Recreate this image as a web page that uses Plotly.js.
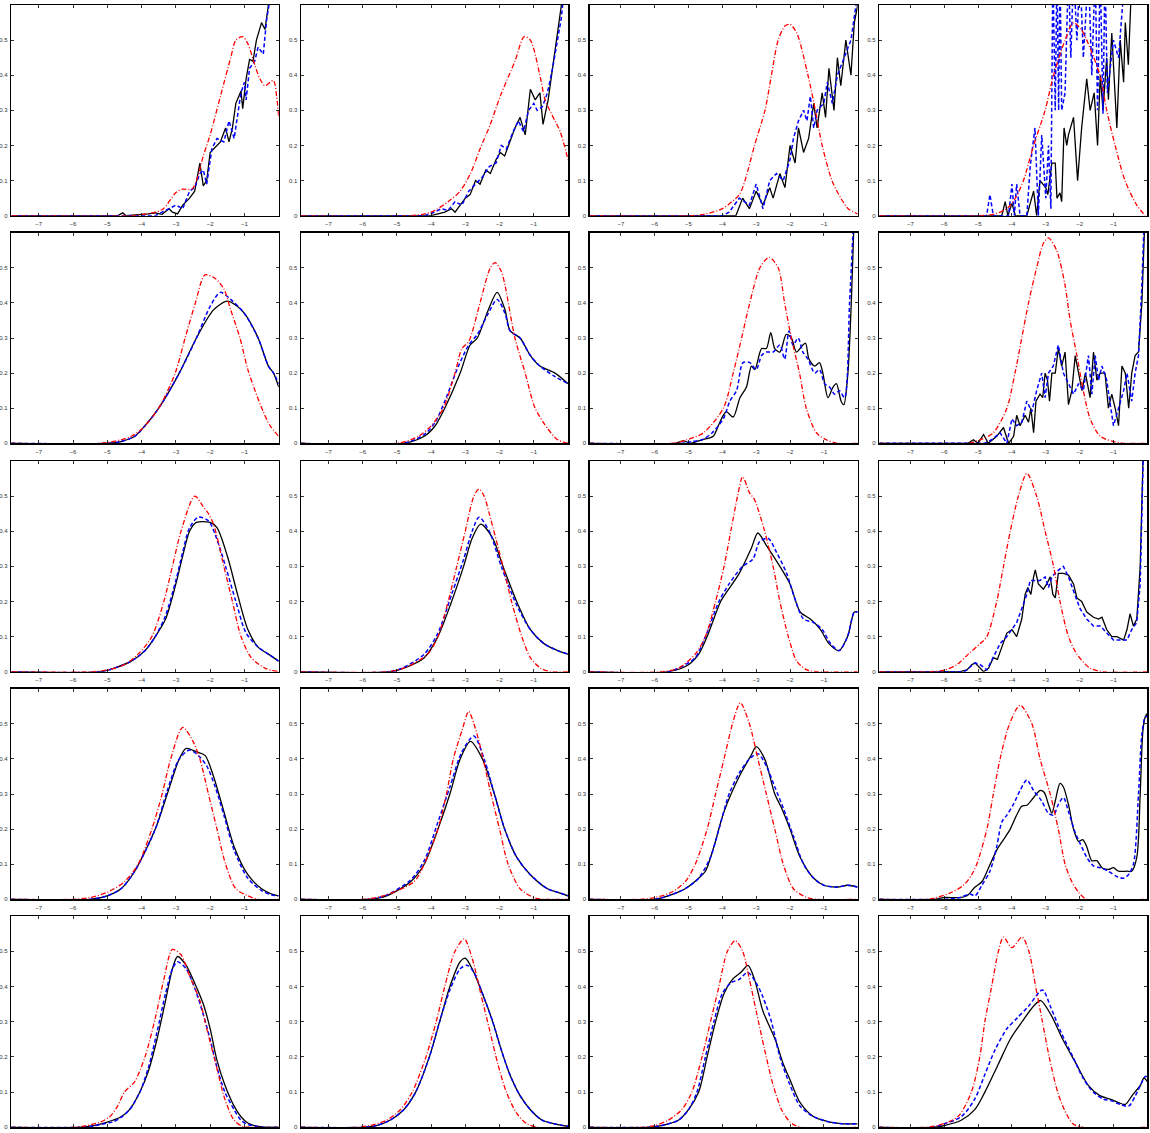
<!DOCTYPE html>
<html>
<head>
<meta charset="utf-8">
<script src="https://cdn.plot.ly/plotly-3.0.1.min.js"></script>
<style>html,body{margin:0;padding:0;background:#fff;}#chart{width:1150px;height:1133px;}</style>
</head>
<body>
<div id="chart"></div>
<script>
// ---------- DATA (x, density) pairs ----------
const xTickVals = [-7,-6,-5,-4,-3,-2,-1];
const xTickText = ['\u22127','\u22126','\u22125','\u22124','\u22123','\u22122','\u22121'];
const yTickVals = [0,0.1,0.2,0.3,0.4,0.5];
const yTickText = ['0','0.1','0.2','0.3','0.4','0.5'];
const colXMin = [-7.8,-7.8,-7.92,-7.92];

// Row 1
const r1c1_black = [[-7.8,0],[-4.7,0],[-4.55,0.008],[-4.45,0],[-3.8,0.005],[-3.6,0.008],[-3.4,0.004],[-3.2,0.02],[-3.1,0.01],[-2.95,0.005],[-2.8,0.03],[-2.6,0.05],[-2.45,0.07],[-2.3,0.15],[-2.2,0.085],[-2.1,0.1],[-2.0,0.18],[-1.9,0.19],[-1.7,0.21],[-1.55,0.25],[-1.45,0.21],[-1.35,0.25],[-1.25,0.32],[-1.1,0.355],[-1.05,0.305],[-0.95,0.39],[-0.85,0.445],[-0.75,0.44],[-0.65,0.5],[-0.5,0.55],[-0.4,0.53],[-0.3,0.6],[-0.2,0.7]];
const r1c1_blue = [[-7.8,0],[-3.6,0],[-3.4,0.01],[-3.0,0.03],[-2.8,0.02],[-2.6,0.07],[-2.45,0.08],[-2.3,0.12],[-2.2,0.13],[-2.1,0.09],[-1.95,0.19],[-1.8,0.22],[-1.6,0.21],[-1.45,0.27],[-1.3,0.22],[-1.2,0.29],[-1.1,0.35],[-1.0,0.38],[-0.95,0.33],[-0.85,0.42],[-0.7,0.44],[-0.6,0.48],[-0.45,0.46],[-0.35,0.56],[-0.25,0.62]];
const r1c1_red = [[-7.8,0],[-4.3,0],[-4.0,0.003],[-3.6,0.01],[-3.36,0.02],[-3.0,0.066],[-2.83,0.075],[-2.53,0.076],[-2.4,0.1],[-2.2,0.17],[-2.0,0.23],[-1.7,0.34],[-1.4,0.45],[-1.25,0.5],[-1.05,0.51],[-0.9,0.49],[-0.7,0.43],[-0.55,0.39],[-0.4,0.37],[-0.25,0.38],[-0.15,0.385],[-0.06,0.34],[0,0.28]];

const r1c2_black = [[-7.8,0],[-4.0,0],[-3.8,0.005],[-3.6,0.01],[-3.4,0.02],[-3.3,0.01],[-3.15,0.03],[-3.0,0.05],[-2.86,0.06],[-2.7,0.1],[-2.57,0.09],[-2.4,0.13],[-2.27,0.12],[-2.1,0.16],[-1.98,0.18],[-1.85,0.17],[-1.7,0.21],[-1.55,0.25],[-1.4,0.28],[-1.25,0.23],[-1.1,0.36],[-0.96,0.33],[-0.82,0.35],[-0.73,0.26],[-0.58,0.33],[-0.47,0.4],[-0.35,0.48],[-0.23,0.55],[-0.15,0.6],[-0.05,0.7]];
const r1c2_blue = [[-7.8,0],[-4.2,0],[-3.9,0.01],[-3.7,0.02],[-3.5,0.015],[-3.3,0.04],[-3.1,0.03],[-2.9,0.07],[-2.7,0.09],[-2.5,0.11],[-2.3,0.14],[-2.1,0.15],[-1.95,0.2],[-1.8,0.19],[-1.6,0.24],[-1.45,0.27],[-1.3,0.24],[-1.15,0.3],[-1.0,0.32],[-0.9,0.3],[-0.75,0.31],[-0.6,0.35],[-0.45,0.42],[-0.3,0.5],[-0.2,0.56],[-0.1,0.65]];
const r1c2_red = [[-7.8,0],[-4.6,0],[-4.0,0.01],[-3.5,0.04],[-3.15,0.07],[-2.85,0.12],[-2.57,0.19],[-2.27,0.26],[-1.98,0.34],[-1.55,0.44],[-1.28,0.51],[-1.1,0.5],[-0.8,0.39],[-0.67,0.33],[-0.38,0.27],[-0.23,0.24],[0,0.16]];

const r1c3_black = [[-7.92,0],[-3.6,0],[-3.4,0.05],[-3.2,0.02],[-3.0,0.07],[-2.8,0.03],[-2.6,0.08],[-2.5,0.05],[-2.3,0.12],[-2.15,0.08],[-2.0,0.2],[-1.85,0.15],[-1.75,0.25],[-1.6,0.18],[-1.45,0.22],[-1.3,0.32],[-1.2,0.25],[-1.05,0.35],[-0.95,0.28],[-0.85,0.42],[-0.7,0.3],[-0.6,0.45],[-0.5,0.37],[-0.35,0.5],[-0.2,0.4],[-0.1,0.55],[0,0.6]];
const r1c3_blue = [[-7.92,0],[-4.0,0],[-3.8,0.01],[-3.5,0.05],[-3.2,0.03],[-3.0,0.09],[-2.8,0.02],[-2.6,0.1],[-2.4,0.12],[-2.2,0.1],[-2.0,0.16],[-1.9,0.22],[-1.75,0.27],[-1.6,0.3],[-1.5,0.27],[-1.4,0.34],[-1.3,0.25],[-1.2,0.3],[-1.0,0.32],[-0.9,0.38],[-0.75,0.32],[-0.6,0.4],[-0.4,0.45],[-0.2,0.5],[-0.05,0.6]];
const r1c3_red = [[-7.92,0],[-5.0,0],[-4.5,0.005],[-4.0,0.02],[-3.5,0.06],[-3.33,0.1],[-3.05,0.2],[-2.74,0.3],[-2.55,0.4],[-2.35,0.5],[-2.15,0.54],[-2.0,0.545],[-1.8,0.52],[-1.47,0.4],[-1.25,0.3],[-1.05,0.2],[-0.76,0.1],[-0.5,0.05],[-0.28,0.02],[0,0.005]];

const r1c4_black = [[-7.92,0],[-4.3,0],[-4.2,0.04],[-4.12,0],[-4.0,0.035],[-3.9,0],[-3.56,0],[-3.36,0.07],[-3.27,0],[-3.17,0.1],[-3.0,0.08],[-2.94,0.06],[-2.82,0.15],[-2.72,0.15],[-2.67,0.05],[-2.58,0.065],[-2.53,0.04],[-2.46,0.25],[-2.38,0.2],[-2.33,0.23],[-2.18,0.28],[-2.06,0.1],[-1.94,0.25],[-1.79,0.39],[-1.69,0.3],[-1.57,0.35],[-1.47,0.2],[-1.39,0.4],[-1.31,0.3],[-1.2,0.45],[-1.15,0.33],[-1.05,0.52],[-0.9,0.25],[-0.8,0.5],[-0.7,0.38],[-0.65,0.55],[-0.56,0.43],[-0.5,0.6],[-0.45,0.7]];
const r1c4_blue = [[-7.92,0],[-4.75,0],[-4.65,0.06],[-4.55,0],[-4.1,0],[-4.0,0.09],[-3.93,0],[-3.86,0.09],[-3.76,0],[-3.56,0],[-3.46,0.14],[-3.32,0.25],[-3.22,0],[-3.12,0.23],[-3.0,0.05],[-2.92,0.2],[-2.85,0.02],[-2.79,0.7],[-2.72,0.3],[-2.67,0.7],[-2.62,0.3],[-2.58,0.7],[-2.53,0.3],[-2.43,0.35],[-2.33,0.7],[-2.26,0.45],[-2.18,0.7],[-2.08,0.5],[-1.99,0.7],[-1.89,0.45],[-1.74,0.7],[-1.64,0.4],[-1.54,0.7],[-1.47,0.3],[-1.39,0.7],[-1.31,0.29],[-1.25,0.7],[-1.18,0.35],[-1.0,0.5],[-0.85,0.45],[-0.65,0.7]];
const r1c4_red = [[-7.92,0],[-5.0,0],[-4.5,0.005],[-4.15,0.02],[-3.9,0.05],[-3.66,0.1],[-3.36,0.2],[-3.02,0.3],[-2.77,0.4],[-2.43,0.5],[-2.18,0.55],[-1.95,0.53],[-1.79,0.5],[-1.4,0.4],[-1.2,0.3],[-0.95,0.2],[-0.66,0.1],[-0.31,0.03],[-0.06,0]];

// Row 2
const r2c1_black = [[-7.8,0],[-5.0,0],[-4.6,0.005],[-4.2,0.02],[-3.9,0.05],[-3.5,0.1],[-2.9,0.2],[-2.4,0.3],[-1.9,0.38],[-1.5,0.405],[-1.2,0.39],[-1.0,0.37],[-0.6,0.3],[-0.3,0.22],[-0.15,0.2],[0,0.16]];
const r2c1_blue = [[-7.8,0],[-5.0,0],[-4.6,0.005],[-4.2,0.02],[-3.9,0.05],[-3.5,0.1],[-2.9,0.2],[-2.4,0.3],[-2.0,0.39],[-1.7,0.43],[-1.4,0.41],[-1.0,0.37],[-0.6,0.3],[-0.3,0.22],[-0.15,0.2],[0,0.17]];
const r2c1_red = [[-7.8,0],[-5.2,0],[-4.6,0.01],[-4.3,0.02],[-4.0,0.04],[-3.5,0.1],[-3.02,0.2],[-2.73,0.3],[-2.43,0.4],[-2.15,0.48],[-1.86,0.47],[-1.6,0.44],[-1.4,0.38],[-1.13,0.3],[-0.9,0.21],[-0.69,0.15],[-0.45,0.09],[-0.25,0.05],[0,0.02]];

const r2c2_black = [[-7.8,0],[-4.8,0],[-4.2,0.02],[-3.88,0.05],[-3.6,0.1],[-3.15,0.2],[-2.86,0.28],[-2.65,0.3],[-2.33,0.38],[-2.07,0.43],[-1.84,0.38],[-1.69,0.32],[-1.4,0.3],[-1.1,0.25],[-0.82,0.22],[-0.38,0.2],[0,0.17]];
const r2c2_blue = [[-7.8,0],[-4.8,0],[-4.2,0.025],[-3.88,0.06],[-3.6,0.12],[-3.2,0.22],[-2.9,0.28],[-2.65,0.31],[-2.33,0.37],[-2.07,0.41],[-1.84,0.37],[-1.69,0.32],[-1.4,0.3],[-1.1,0.25],[-0.82,0.22],[-0.38,0.19],[0,0.17]];
const r2c2_red = [[-7.8,0],[-5.0,0],[-4.37,0.02],[-4.0,0.05],[-3.64,0.1],[-3.3,0.2],[-3.1,0.27],[-2.9,0.29],[-2.57,0.4],[-2.27,0.5],[-2.13,0.515],[-1.95,0.49],[-1.84,0.45],[-1.55,0.3],[-1.25,0.2],[-0.96,0.1],[-0.58,0.04],[-0.3,0.01],[0,0]];

const r2c3_black = [[-7.92,0],[-5.4,0],[-5.15,0.007],[-4.95,0],[-4.6,0.01],[-4.27,0.02],[-4.12,0.05],[-3.97,0.08],[-3.88,0.09],[-3.68,0.075],[-3.48,0.13],[-3.29,0.16],[-3.14,0.22],[-3.04,0.21],[-2.84,0.27],[-2.7,0.27],[-2.57,0.315],[-2.45,0.27],[-2.3,0.26],[-2.11,0.31],[-1.96,0.3],[-1.81,0.26],[-1.62,0.28],[-1.54,0.285],[-1.44,0.24],[-1.27,0.22],[-1.13,0.23],[-1.03,0.2],[-0.88,0.13],[-0.73,0.16],[-0.63,0.17],[-0.49,0.12],[-0.41,0.11],[-0.29,0.2],[-0.19,0.4],[-0.12,0.6],[-0.08,0.7]];
const r2c3_blue = [[-7.92,0],[-5.2,0],[-4.9,0.005],[-4.6,0.01],[-4.3,0.03],[-3.97,0.07],[-3.78,0.12],[-3.58,0.15],[-3.39,0.23],[-3.19,0.23],[-3.0,0.21],[-2.84,0.25],[-2.7,0.26],[-2.5,0.26],[-2.3,0.28],[-2.16,0.24],[-2.03,0.32],[-1.91,0.28],[-1.76,0.3],[-1.62,0.26],[-1.47,0.24],[-1.27,0.2],[-1.13,0.21],[-0.98,0.17],[-0.83,0.16],[-0.68,0.14],[-0.54,0.15],[-0.39,0.13],[-0.24,0.4],[-0.14,0.6],[-0.1,0.7]];
const r2c3_red = [[-7.92,0],[-5.5,0],[-5.05,0.01],[-4.56,0.03],[-3.97,0.1],[-3.68,0.2],[-3.43,0.3],[-3.19,0.4],[-2.89,0.5],[-2.62,0.53],[-2.35,0.5],[-2.16,0.4],[-1.96,0.3],[-1.72,0.2],[-1.52,0.1],[-1.22,0.03],[-0.93,0.01],[-0.6,0],[0,0]];

const r2c4_black = [[-7.92,0],[-5.3,0],[-5.14,0.01],[-5.0,0],[-4.84,0.025],[-4.7,0],[-4.45,0.02],[-4.25,0.045],[-4.1,0],[-3.95,0.02],[-3.86,0.08],[-3.76,0.05],[-3.61,0.08],[-3.51,0.06],[-3.44,0.1],[-3.36,0.03],[-3.29,0.12],[-3.17,0.14],[-3.09,0.13],[-3.02,0.2],[-2.95,0.18],[-2.89,0.12],[-2.82,0.2],[-2.72,0.2],[-2.63,0.27],[-2.53,0.22],[-2.43,0.26],[-2.33,0.11],[-2.23,0.15],[-2.13,0.25],[-2.03,0.2],[-1.93,0.15],[-1.83,0.2],[-1.69,0.13],[-1.59,0.26],[-1.49,0.18],[-1.39,0.2],[-1.25,0.2],[-1.15,0.1],[-1.05,0.14],[-0.95,0.1],[-0.85,0.05],[-0.75,0.22],[-0.65,0.2],[-0.55,0.1],[-0.46,0.2],[-0.36,0.25],[-0.26,0.26],[-0.16,0.4],[-0.09,0.6],[-0.05,0.7]];
const r2c4_blue = [[-7.92,0],[-4.8,0],[-4.6,0.01],[-4.35,0.03],[-4.15,0],[-4.0,0.07],[-3.86,0.05],[-3.71,0.06],[-3.56,0.12],[-3.41,0.09],[-3.27,0.15],[-3.12,0.2],[-3.02,0.13],[-2.92,0.2],[-2.78,0.22],[-2.63,0.28],[-2.48,0.2],[-2.33,0.17],[-2.18,0.14],[-2.03,0.17],[-1.89,0.15],[-1.74,0.25],[-1.64,0.14],[-1.54,0.25],[-1.44,0.18],[-1.34,0.22],[-1.2,0.18],[-1.0,0.05],[-0.85,0.1],[-0.7,0.15],[-0.6,0.2],[-0.46,0.12],[-0.36,0.2],[-0.26,0.25],[-0.16,0.45],[-0.11,0.6],[-0.07,0.7]];
const r2c4_red = [[-7.92,0],[-5.3,0],[-4.94,0.01],[-4.55,0.03],[-4.15,0.1],[-3.91,0.2],[-3.71,0.3],[-3.51,0.4],[-3.27,0.5],[-3.07,0.57],[-2.92,0.585],[-2.68,0.55],[-2.43,0.45],[-2.28,0.35],[-2.08,0.25],[-1.89,0.15],[-1.69,0.07],[-1.39,0.02],[-1.0,0.005],[-0.7,0],[0,0]];

// Row 3
const r3c1_black = [[-7.8,0],[-5.2,0],[-4.8,0.01],[-4.3,0.03],[-3.9,0.06],[-3.6,0.1],[-3.3,0.15],[-3.0,0.25],[-2.8,0.33],[-2.6,0.4],[-2.4,0.425],[-2.0,0.425],[-1.8,0.41],[-1.5,0.33],[-1.2,0.22],[-0.9,0.12],[-0.6,0.07],[-0.3,0.05],[0,0.03]];
const r3c1_blue = [[-7.8,0],[-5.2,0],[-4.8,0.01],[-4.3,0.03],[-3.9,0.06],[-3.6,0.1],[-3.3,0.16],[-3.0,0.26],[-2.8,0.34],[-2.6,0.41],[-2.35,0.44],[-2.05,0.43],[-1.85,0.39],[-1.55,0.3],[-1.25,0.2],[-0.95,0.11],[-0.6,0.07],[-0.3,0.05],[0,0.03]];
const r3c1_red = [[-7.8,0],[-5.5,0],[-5.0,0.005],[-4.5,0.02],[-4.1,0.05],[-3.7,0.1],[-3.35,0.2],[-3.1,0.3],[-2.85,0.4],[-2.45,0.5],[-2.2,0.47],[-2.05,0.45],[-1.9,0.42],[-1.6,0.3],[-1.35,0.2],[-1.1,0.1],[-0.8,0.04],[-0.4,0.01],[0,0]];

const r3c2_black = [[-7.8,0],[-5.2,0],[-4.8,0.01],[-4.2,0.04],[-3.8,0.1],[-3.4,0.2],[-3.05,0.3],[-2.8,0.38],[-2.55,0.42],[-2.2,0.38],[-1.9,0.3],[-1.5,0.2],[-1.1,0.12],[-0.7,0.08],[-0.3,0.06],[0,0.05]];
const r3c2_blue = [[-7.8,0],[-5.2,0],[-4.8,0.012],[-4.2,0.05],[-3.8,0.11],[-3.4,0.22],[-3.05,0.32],[-2.8,0.4],[-2.6,0.44],[-2.3,0.4],[-1.95,0.3],[-1.5,0.19],[-1.1,0.12],[-0.7,0.08],[-0.3,0.06],[0,0.05]];
const r3c2_red = [[-7.8,0],[-5.3,0],[-4.8,0.01],[-4.1,0.05],[-3.8,0.1],[-3.5,0.2],[-3.25,0.3],[-3.0,0.4],[-2.75,0.5],[-2.6,0.52],[-2.45,0.5],[-2.3,0.45],[-1.9,0.3],[-1.65,0.2],[-1.35,0.1],[-1.1,0.04],[-0.8,0.01],[-0.5,0],[0,0]];

const r3c3_black = [[-7.92,0],[-5.6,0],[-5.0,0.02],[-4.7,0.05],[-4.45,0.1],[-4.05,0.2],[-3.85,0.23],[-3.5,0.28],[-3.15,0.35],[-2.95,0.395],[-2.7,0.36],[-2.3,0.3],[-2.0,0.25],[-1.7,0.17],[-1.4,0.15],[-1.1,0.12],[-0.85,0.08],[-0.55,0.06],[-0.3,0.1],[-0.1,0.17],[0,0.17]];
const r3c3_blue = [[-7.92,0],[-5.6,0],[-5.1,0.02],[-4.8,0.04],[-4.5,0.1],[-4.1,0.2],[-3.8,0.25],[-3.4,0.3],[-3.1,0.32],[-2.9,0.37],[-2.65,0.38],[-2.4,0.34],[-2.1,0.28],[-1.9,0.22],[-1.6,0.15],[-1.3,0.14],[-1.05,0.12],[-0.8,0.08],[-0.55,0.06],[-0.3,0.1],[-0.1,0.17],[0,0.17]];
const r3c3_red = [[-7.92,0],[-5.8,0],[-5.3,0.01],[-4.8,0.05],[-4.5,0.1],[-4.2,0.2],[-3.95,0.3],[-3.75,0.4],[-3.55,0.5],[-3.4,0.555],[-3.2,0.51],[-3.05,0.49],[-2.75,0.4],[-2.5,0.3],[-2.3,0.2],[-2.05,0.1],[-1.8,0.03],[-1.5,0.005],[-1.2,0],[0,0]];

const r3c4_black = [[-7.92,0],[-5.53,0],[-5.33,0.005],[-5.19,0.02],[-5.09,0.025],[-4.94,0.01],[-4.84,0],[-4.69,0.01],[-4.55,0.04],[-4.43,0.035],[-4.3,0.07],[-4.15,0.11],[-4.0,0.12],[-3.86,0.1],[-3.71,0.15],[-3.61,0.22],[-3.53,0.24],[-3.44,0.22],[-3.36,0.27],[-3.31,0.29],[-3.22,0.25],[-3.07,0.235],[-2.97,0.25],[-2.87,0.27],[-2.79,0.22],[-2.72,0.21],[-2.63,0.28],[-2.48,0.28],[-2.33,0.275],[-2.18,0.25],[-2.08,0.21],[-1.94,0.2],[-1.79,0.17],[-1.59,0.155],[-1.44,0.15],[-1.34,0.155],[-1.2,0.12],[-1.05,0.1],[-0.9,0.1],[-0.7,0.09],[-0.6,0.12],[-0.51,0.165],[-0.41,0.13],[-0.31,0.15],[-0.21,0.3],[-0.13,0.6],[-0.1,0.7]];
const r3c4_blue = [[-7.92,0],[-5.4,0],[-5.09,0.025],[-4.94,0.02],[-4.74,0.005],[-4.55,0.04],[-4.35,0.08],[-4.15,0.1],[-4.0,0.12],[-3.86,0.14],[-3.71,0.18],[-3.56,0.22],[-3.46,0.26],[-3.31,0.26],[-3.17,0.26],[-3.02,0.27],[-2.92,0.24],[-2.82,0.27],[-2.68,0.285],[-2.48,0.3],[-2.33,0.27],[-2.18,0.23],[-1.99,0.18],[-1.79,0.15],[-1.59,0.13],[-1.39,0.13],[-1.2,0.11],[-1.0,0.09],[-0.8,0.09],[-0.6,0.09],[-0.46,0.12],[-0.31,0.14],[-0.21,0.25],[-0.13,0.6],[-0.1,0.7]];
const r3c4_red = [[-7.92,0],[-6.4,0],[-5.98,0.005],[-5.63,0.02],[-5.29,0.05],[-4.94,0.08],[-4.74,0.1],[-4.45,0.2],[-4.25,0.3],[-4.05,0.4],[-3.81,0.5],[-3.56,0.565],[-3.27,0.5],[-3.02,0.4],[-2.77,0.3],[-2.58,0.2],[-2.33,0.1],[-2.08,0.05],[-1.69,0.01],[-1.3,0],[0,0]];

// Row 4
const r4c1_black = [[-7.8,0],[-5.5,0],[-5.0,0.01],[-4.6,0.03],[-4.2,0.08],[-3.6,0.2],[-3.25,0.3],[-2.9,0.4],[-2.7,0.43],[-2.4,0.42],[-2.15,0.41],[-1.9,0.35],[-1.6,0.25],[-1.3,0.15],[-0.9,0.07],[-0.5,0.03],[-0.2,0.015],[0,0.01]];
const r4c1_blue = [[-7.8,0],[-5.5,0],[-5.0,0.01],[-4.6,0.03],[-4.2,0.08],[-3.6,0.2],[-3.25,0.31],[-2.9,0.4],[-2.6,0.425],[-2.35,0.41],[-2.1,0.38],[-1.85,0.32],[-1.6,0.24],[-1.3,0.14],[-0.9,0.06],[-0.5,0.025],[-0.2,0.012],[0,0.01]];
const r4c1_red = [[-7.8,0],[-6.0,0],[-5.5,0.005],[-5.0,0.02],[-4.5,0.05],[-4.1,0.1],[-3.7,0.2],[-3.4,0.3],[-3.15,0.4],[-2.8,0.49],[-2.5,0.45],[-2.3,0.4],[-2.05,0.3],[-1.8,0.2],[-1.55,0.1],[-1.25,0.03],[-0.9,0.01],[-0.6,0],[0,0]];

const r4c2_black = [[-7.8,0],[-5.8,0],[-5.3,0.01],[-4.6,0.05],[-4.2,0.1],[-3.8,0.2],[-3.45,0.3],[-3.15,0.4],[-2.85,0.45],[-2.5,0.4],[-2.15,0.3],[-1.85,0.2],[-1.5,0.12],[-1.1,0.07],[-0.6,0.03],[-0.3,0.02],[0,0.01]];
const r4c2_blue = [[-7.8,0],[-5.8,0],[-5.3,0.012],[-4.6,0.055],[-4.2,0.11],[-3.8,0.22],[-3.45,0.32],[-3.1,0.42],[-2.75,0.465],[-2.45,0.4],[-2.15,0.3],[-1.85,0.2],[-1.5,0.12],[-1.1,0.07],[-0.6,0.03],[-0.3,0.02],[0,0.01]];
const r4c2_red = [[-7.8,0],[-6.0,0],[-5.4,0.01],[-4.5,0.05],[-4.2,0.1],[-3.8,0.2],[-3.55,0.3],[-3.35,0.4],[-3.1,0.48],[-2.9,0.535],[-2.75,0.5],[-2.6,0.45],[-2.25,0.3],[-2.0,0.2],[-1.75,0.1],[-1.4,0.03],[-1.0,0.005],[-0.7,0],[0,0]];

const r4c3_black = [[-7.92,0],[-6.0,0],[-5.6,0.01],[-5.1,0.03],[-4.7,0.06],[-4.5,0.08],[-4.25,0.15],[-3.95,0.25],[-3.5,0.35],[-3.15,0.41],[-3.0,0.435],[-2.75,0.4],[-2.45,0.3],[-2.25,0.26],[-2.0,0.2],[-1.7,0.12],[-1.3,0.06],[-1.0,0.04],[-0.6,0.035],[-0.3,0.04],[0,0.035]];
const r4c3_blue = [[-7.92,0],[-6.0,0],[-5.6,0.01],[-5.1,0.03],[-4.7,0.06],[-4.35,0.12],[-4.1,0.2],[-3.8,0.3],[-3.5,0.36],[-3.2,0.4],[-2.95,0.415],[-2.7,0.38],[-2.45,0.32],[-2.2,0.26],[-1.9,0.18],[-1.6,0.1],[-1.3,0.06],[-1.0,0.04],[-0.6,0.035],[-0.3,0.04],[0,0.035]];
const r4c3_red = [[-7.92,0],[-6.4,0],[-6.0,0.005],[-5.5,0.02],[-5.1,0.05],[-4.8,0.1],[-4.45,0.2],[-4.2,0.3],[-3.95,0.4],[-3.7,0.5],[-3.47,0.56],[-3.2,0.5],[-2.95,0.4],[-2.7,0.3],[-2.45,0.2],[-2.2,0.1],[-1.9,0.03],[-1.5,0.005],[-1.2,0],[0,0]];

const r4c4_black = [[-7.92,0],[-6.3,0],[-6.02,0.005],[-5.53,0.005],[-5.33,0.01],[-5.09,0.035],[-4.89,0.05],[-4.69,0.09],[-4.45,0.14],[-4.25,0.17],[-4.05,0.2],[-3.86,0.24],[-3.71,0.265],[-3.56,0.268],[-3.36,0.29],[-3.17,0.31],[-3.05,0.305],[-2.92,0.27],[-2.82,0.245],[-2.72,0.28],[-2.58,0.33],[-2.48,0.32],[-2.33,0.27],[-2.18,0.2],[-2.03,0.165],[-1.91,0.17],[-1.79,0.15],[-1.64,0.11],[-1.49,0.11],[-1.34,0.09],[-1.15,0.085],[-1.0,0.09],[-0.85,0.08],[-0.6,0.08],[-0.46,0.08],[-0.31,0.12],[-0.21,0.3],[-0.13,0.48],[-0.06,0.52],[0,0.53]];
const r4c4_blue = [[-7.92,0],[-6.0,0],[-5.53,0.005],[-5.24,0.015],[-5.09,0.01],[-4.89,0.04],[-4.65,0.08],[-4.45,0.15],[-4.3,0.22],[-4.15,0.24],[-3.96,0.27],[-3.76,0.31],[-3.56,0.34],[-3.36,0.31],[-3.12,0.28],[-2.92,0.245],[-2.77,0.24],[-2.63,0.27],[-2.48,0.29],[-2.33,0.25],[-2.13,0.19],[-1.99,0.16],[-1.79,0.12],[-1.59,0.095],[-1.39,0.09],[-1.15,0.08],[-0.9,0.065],[-0.7,0.06],[-0.56,0.07],[-0.41,0.1],[-0.26,0.3],[-0.16,0.47],[-0.06,0.52],[0,0.52]];
const r4c4_red = [[-7.92,0],[-6.5,0],[-6.22,0.005],[-5.78,0.02],[-5.43,0.04],[-5.19,0.07],[-5.04,0.1],[-4.74,0.2],[-4.55,0.3],[-4.35,0.4],[-4.07,0.5],[-3.76,0.553],[-3.41,0.5],[-3.17,0.4],[-2.87,0.3],[-2.63,0.2],[-2.43,0.1],[-2.23,0.05],[-2.03,0.02],[-1.79,0],[0,0]];

// Row 5
const r5c1_black = [[-7.8,0],[-5.8,0],[-5.4,0.005],[-5.0,0.015],[-4.84,0.02],[-4.6,0.03],[-4.35,0.05],[-4.05,0.1],[-3.8,0.16],[-3.55,0.25],[-3.3,0.36],[-3.1,0.45],[-2.95,0.485],[-2.7,0.46],[-2.43,0.405],[-2.2,0.35],[-2.0,0.28],[-1.8,0.19],[-1.57,0.12],[-1.3,0.06],[-1.1,0.03],[-0.9,0.012],[-0.65,0.003],[-0.4,0],[0,0]];
const r5c1_blue = [[-7.8,0],[-5.8,0],[-5.4,0.004],[-5.0,0.012],[-4.84,0.015],[-4.6,0.028],[-4.35,0.05],[-4.05,0.1],[-3.8,0.17],[-3.55,0.27],[-3.3,0.38],[-3.1,0.45],[-2.95,0.47],[-2.7,0.45],[-2.43,0.39],[-2.2,0.32],[-2.0,0.25],[-1.8,0.17],[-1.57,0.1],[-1.3,0.05],[-1.1,0.02],[-0.9,0.008],[-0.6,0.002],[-0.4,0],[0,0]];
const r5c1_red = [[-7.8,0],[-6.0,0],[-5.6,0.005],[-5.2,0.015],[-4.93,0.03],[-4.7,0.06],[-4.5,0.1],[-4.2,0.13],[-3.9,0.2],[-3.6,0.31],[-3.35,0.42],[-3.1,0.505],[-2.85,0.49],[-2.6,0.43],[-2.3,0.36],[-2.1,0.28],[-1.86,0.19],[-1.57,0.08],[-1.3,0.02],[-1.04,0.002],[-0.8,0],[0,0]];

const r5c2_black = [[-7.8,0],[-6.0,0],[-5.6,0.005],[-5.2,0.02],[-4.8,0.05],[-4.45,0.1],[-4.05,0.2],[-3.75,0.3],[-3.45,0.4],[-3.15,0.47],[-3.0,0.48],[-2.8,0.45],[-2.5,0.38],[-2.2,0.3],[-1.95,0.22],[-1.7,0.15],[-1.4,0.09],[-1.1,0.05],[-0.75,0.02],[-0.4,0.01],[0,0.003]];
const r5c2_blue = [[-7.8,0],[-6.0,0],[-5.6,0.005],[-5.2,0.02],[-4.8,0.05],[-4.45,0.1],[-4.05,0.2],[-3.75,0.3],[-3.45,0.39],[-3.15,0.45],[-2.95,0.46],[-2.75,0.44],[-2.5,0.38],[-2.2,0.3],[-1.95,0.22],[-1.7,0.15],[-1.4,0.09],[-1.1,0.05],[-0.75,0.02],[-0.4,0.01],[0,0.003]];
const r5c2_red = [[-7.8,0],[-6.2,0],[-5.8,0.005],[-5.3,0.02],[-4.9,0.05],[-4.55,0.1],[-4.15,0.2],[-3.85,0.3],[-3.6,0.4],[-3.3,0.5],[-3.03,0.535],[-2.8,0.48],[-2.55,0.38],[-2.3,0.28],[-2.05,0.18],[-1.8,0.1],[-1.5,0.04],[-1.2,0.01],[-0.9,0],[0,0]];

const r5c3_black = [[-7.92,0],[-6.2,0],[-5.8,0.005],[-5.3,0.02],[-5.0,0.05],[-4.7,0.1],[-4.45,0.2],[-4.2,0.3],[-3.95,0.38],[-3.7,0.42],[-3.45,0.44],[-3.24,0.46],[-3.05,0.42],[-2.8,0.33],[-2.44,0.25],[-2.2,0.18],[-2.0,0.135],[-1.7,0.07],[-1.3,0.03],[-0.82,0.015],[-0.4,0.01],[0,0.01]];
const r5c3_blue = [[-7.92,0],[-6.2,0],[-5.8,0.005],[-5.3,0.02],[-5.0,0.05],[-4.75,0.1],[-4.5,0.2],[-4.25,0.3],[-4.0,0.38],[-3.75,0.41],[-3.5,0.42],[-3.25,0.44],[-3.0,0.41],[-2.8,0.37],[-2.55,0.3],[-2.3,0.2],[-2.0,0.12],[-1.7,0.06],[-1.3,0.03],[-0.82,0.015],[-0.4,0.01],[0,0.01]];
const r5c3_red = [[-7.92,0],[-6.4,0],[-6.0,0.005],[-5.6,0.02],[-5.2,0.05],[-4.9,0.1],[-4.6,0.2],[-4.35,0.3],[-4.1,0.4],[-3.85,0.5],[-3.62,0.53],[-3.4,0.5],[-3.2,0.42],[-3.0,0.33],[-2.75,0.22],[-2.5,0.12],[-2.25,0.05],[-2.0,0.015],[-1.7,0],[0,0]];

const r5c4_black = [[-7.92,0],[-6.3,0],[-6.0,0.005],[-5.5,0.02],[-5.1,0.05],[-4.8,0.1],[-4.4,0.18],[-4.05,0.25],[-3.7,0.3],[-3.35,0.345],[-3.15,0.36],[-2.85,0.32],[-2.5,0.25],[-2.1,0.18],[-1.75,0.12],[-1.4,0.09],[-1.1,0.08],[-0.85,0.07],[-0.65,0.065],[-0.45,0.09],[-0.2,0.12],[-0.1,0.14],[0,0.13]];
const r5c4_blue = [[-7.92,0],[-6.4,0],[-6.0,0.01],[-5.5,0.03],[-5.1,0.08],[-4.8,0.15],[-4.5,0.22],[-4.15,0.28],[-3.85,0.31],[-3.5,0.345],[-3.1,0.39],[-2.85,0.34],[-2.55,0.27],[-2.2,0.2],[-1.9,0.14],[-1.6,0.1],[-1.3,0.08],[-1.05,0.075],[-0.8,0.065],[-0.55,0.06],[-0.35,0.09],[-0.15,0.13],[-0.05,0.145],[0,0.14]];
const r5c4_red = [[-7.92,0],[-6.6,0],[-6.2,0.005],[-5.6,0.03],[-5.2,0.1],[-4.95,0.2],[-4.8,0.3],[-4.6,0.4],[-4.4,0.5],[-4.25,0.54],[-4.0,0.51],[-3.7,0.54],[-3.5,0.5],[-3.3,0.4],[-3.1,0.3],[-2.9,0.2],[-2.65,0.1],[-2.45,0.05],[-2.2,0.01],[-1.9,0],[0,0]];

// ---------- panel list ----------
const panels = [
  [r1c1_black,r1c1_blue,r1c1_red,'linear'],[r1c2_black,r1c2_blue,r1c2_red,'linear'],[r1c3_black,r1c3_blue,r1c3_red,'linear'],[r1c4_black,r1c4_blue,r1c4_red,'linear'],
  [r2c1_black,r2c1_blue,r2c1_red,'spline'],[r2c2_black,r2c2_blue,r2c2_red,'spline'],[r2c3_black,r2c3_blue,r2c3_red,'spline'],[r2c4_black,r2c4_blue,r2c4_red,'linear'],
  [r3c1_black,r3c1_blue,r3c1_red,'spline'],[r3c2_black,r3c2_blue,r3c2_red,'spline'],[r3c3_black,r3c3_blue,r3c3_red,'spline'],[r3c4_black,r3c4_blue,r3c4_red,'linear'],
  [r4c1_black,r4c1_blue,r4c1_red,'spline'],[r4c2_black,r4c2_blue,r4c2_red,'spline'],[r4c3_black,r4c3_blue,r4c3_red,'spline'],[r4c4_black,r4c4_blue,r4c4_red,'spline'],
  [r5c1_black,r5c1_blue,r5c1_red,'spline'],[r5c2_black,r5c2_blue,r5c2_red,'spline'],[r5c3_black,r5c3_blue,r5c3_red,'spline'],[r5c4_black,r5c4_blue,r5c4_red,'spline']
];

// ---------- layout geometry (pixels) ----------
const W = 1150, H = 1133;
const colPx = [[11.3,278.7],[301,568],[589.7,857.7],[879.3,1147.3]];
const rowPx = [[5,215.7],[232.7,443.3],[461,671.7],[688.7,899.3],[916,1127.3]];
const FONT = 'Liberation Sans, Arial, sans-serif';

const traces = [];
const layout = {
  width: W, height: H,
  margin: {l:0,r:0,t:0,b:0},
  paper_bgcolor: '#fff', plot_bgcolor: '#fff',
  showlegend: false,
  font: {family: FONT, size: 6, color: '#333'}
};

panels.forEach((p, i) => {
  const r = Math.floor(i / 4), c = i % 4;
  const n = i + 1;
  const xa = n === 1 ? 'x' : 'x' + n;
  const ya = n === 1 ? 'y' : 'y' + n;
  const shape = p[3];
  const styles = [
    {color:'#000000', width:1.3, dash:'solid'},
    {color:'#0000ff', width:1.5, dash:'4px,2.5px'},
    {color:'#ff0000', width:1.3, dash:'5px,2px,1px,2px'}
  ];
  [0,1,2].forEach(k => {
    const pts = p[k];
    traces.push({
      type: 'scatter', mode: 'lines',
      x: pts.map(d => d[0]), y: pts.map(d => d[1]),
      xaxis: xa, yaxis: ya,
      line: {color: styles[k].color, width: styles[k].width, dash: styles[k].dash,
             shape: (k === 2 && shape === 'linear') ? 'spline' : shape, smoothing: 0.8},
      hoverinfo: 'skip'
    });
  });
  const common = {
    showline: true, linecolor: '#000', linewidth: 1.5, mirror: 'ticks',
    ticks: 'inside', ticklen: 3, tickwidth: 0.8, tickcolor: '#000',
    showgrid: false, zeroline: false, fixedrange: true,
    tickfont: {size: 6, color: '#333', family: FONT}
  };
  layout[n === 1 ? 'xaxis' : 'xaxis' + n] = Object.assign({}, common, {
    domain: [colPx[c][0] / W, colPx[c][1] / W],
    range: [colXMin[c], 0],
    tickmode: 'array', tickvals: xTickVals, ticktext: xTickText,
    anchor: ya, ticklabelstandoff: 2
  });
  layout[n === 1 ? 'yaxis' : 'yaxis' + n] = Object.assign({}, common, {
    domain: [1 - rowPx[r][1] / H, 1 - rowPx[r][0] / H],
    range: [0, 0.6],
    tickmode: 'array', tickvals: yTickVals, ticktext: yTickText,
    anchor: xa, ticklabelstandoff: 1
  });
});

Plotly.newPlot('chart', traces, layout, {staticPlot: true});
</script>
</body>
</html>
